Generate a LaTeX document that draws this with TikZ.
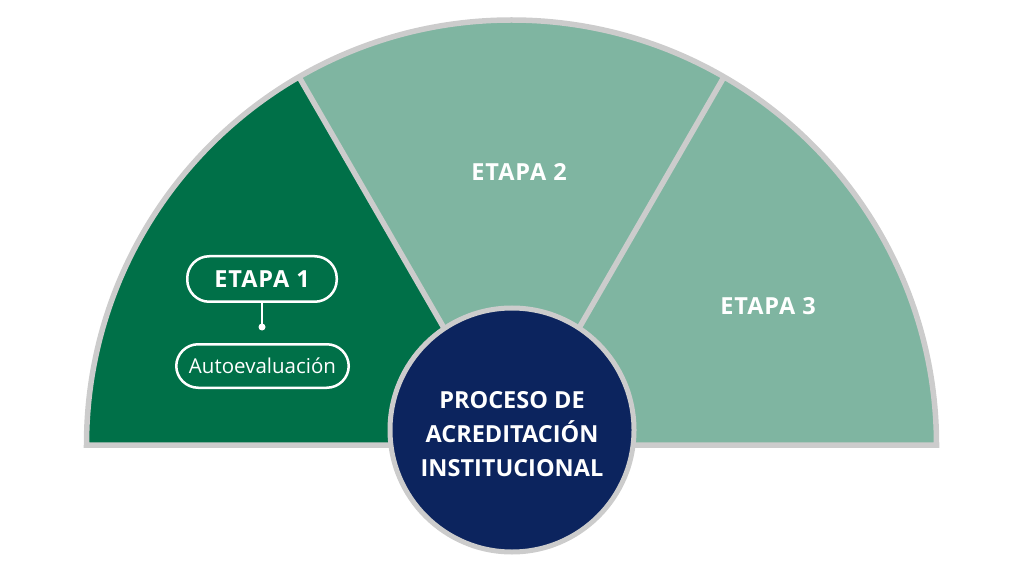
\documentclass[tikz,border=0pt]{standalone}
\usepackage{fontspec}
\setmainfont{Open Sans}
\newfontfamily\stagefont[LetterSpace=4]{Open Sans}
\definecolor{dkgreen}{RGB}{0,112,72}
\definecolor{ltgreen}{RGB}{127,181,161}
\definecolor{navy}{RGB}{12,36,94}
\definecolor{rimgrey}{RGB}{204,204,204}
\begin{document}
\begin{tikzpicture}[x=1pt,y=1pt,
  rim/.style={draw=rimgrey,line width=5.5pt},
  stagelabel/.style={text=white,font=\stagefont\fontsize{23.5}{28}\selectfont\bfseries},
  pill/.style={draw=white,line width=2.5pt,rounded corners=22pt,text=white,inner sep=0pt}]
\useasboundingbox (0,0) rectangle (1024,576);
\coordinate (c) at (511.5,131);
% sectors
\fill[dkgreen] (c) -- ++(180:425) arc[start angle=180,end angle=120,radius=425] -- cycle;
\fill[ltgreen] (c) -- ++(120:425) arc[start angle=120,end angle=60,radius=425] -- cycle;
\fill[ltgreen] (c) -- ++(60:425) arc[start angle=60,end angle=0,radius=425] -- cycle;
% dividers
\draw[rim] (c) -- ++(120:425);
\draw[rim] (c) -- ++(60:425);
% outline
\draw[rim,line join=miter] (c) ++(0:425) arc[start angle=0,end angle=180,radius=425] -- cycle;
% centre circle
\node[circle,fill=navy,draw=rimgrey,line width=5pt,minimum size=244pt,inner sep=0pt] (hub) at (512,146) {};
\node[text=white,align=center,font=\fontsize{23.5}{34}\selectfont\bfseries] (hubtext) at (512,142)
  {PROCESO DE\\ACREDITACIÓN\\INSTITUCIONAL};
% stage labels
\node[stagelabel] (e2) at (519,404) {ETAPA 2};
\node[stagelabel] (e3) at (768,270) {ETAPA 3};
\node[pill,stagelabel,minimum width=149.5pt,minimum height=45.5pt] (e1) at (262,297) {ETAPA 1};
\node[pill,minimum width=172.5pt,minimum height=43.5pt,font=\fontsize{20.5}{24}\selectfont] (auto) at (262.5,210) {Autoevaluación};
\coordinate (dot) at (262,249);
\draw[white,line width=2.5pt] (e1.south) -- (dot);
\fill[white] (dot) circle (3.5pt);
\end{tikzpicture}
\end{document}
